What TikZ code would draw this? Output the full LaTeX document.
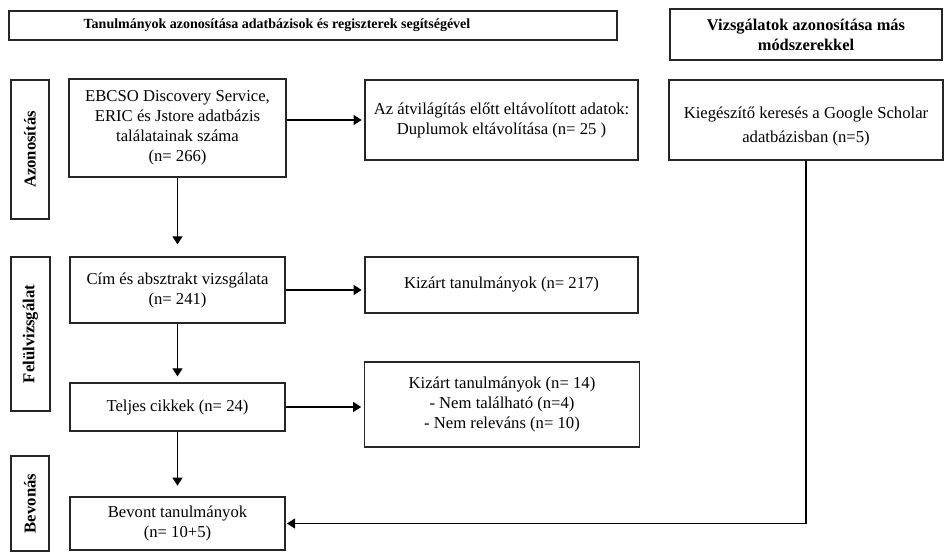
\documentclass[tikz,border=0pt]{standalone}
\usepackage{fontspec}
\setmainfont{Liberation Serif}
\usetikzlibrary{arrows.meta}
\begin{document}
\begin{tikzpicture}[x=0.75pt,y=-0.75pt,
  box/.style={draw=black!85, line width=1pt, align=center, inner sep=2pt,
    font=\fontsize{12.5}{15}\selectfont},
  hdr/.style={box, font=\bfseries\fontsize{12.3}{15}\selectfont},
  side/.style={draw=black!85, line width=1pt, rotate=90, inner sep=0pt,
    font=\bfseries\fontsize{12.5}{15}\selectfont},
  arr/.style={line width=0.9pt, -{Triangle[length=6pt,width=7.5pt]}}]
\useasboundingbox (0,0) rectangle (946,552);
% headers
\node[hdr, font=\bfseries\fontsize{10.5}{13}\selectfont, minimum width=456pt, minimum height=21.75pt] (h1) at (313,25.5)
  {Tanulmányok azonosítása adatbázisok és regiszterek segítségével\hspace*{54pt}};
\node[hdr, minimum width=204pt, minimum height=38.25pt] (h2) at (806,34.5)
  {Vizsgálatok azonosítása más\\módszerekkel};
% side labels
\node[side, minimum width=104.25pt, minimum height=28.5pt] (s1) at (30,149.5) {Azonosítás};
\node[side, minimum width=115.5pt, minimum height=29.25pt] (s2) at (30.5,334) {Felülvizsgálat};
\node[side, minimum width=71.25pt, minimum height=28.5pt] (s3) at (30,503.5) {Bevonás};
% left column
\node[box, minimum width=162.75pt, minimum height=73.5pt] (ebcso) at (177.5,128)
  {EBCSO Discovery Service,\\ERIC és Jstore adatbázis\\találatainak száma\\(n= 266)};
\node[box, minimum width=161.25pt, minimum height=49.5pt] (cim) at (177.5,290)
  {Cím és absztrakt vizsgálata\\(n= 241)};
\node[box, minimum width=161.25pt, minimum height=36pt] (teljes) at (177.5,407)
  {Teljes cikkek (n= 24)};
\node[box, minimum width=161.25pt, minimum height=39.75pt] (bevont) at (177.5,523.5)
  {Bevont tanulmányok\\(n= 10+5)};
% middle column
\node[box, minimum width=204.75pt, minimum height=60pt] (atv) at (501.5,120)
  {Az átvilágítás előtt eltávolított adatok:\\Duplumok eltávolítása (n= 25 )};
\node[box, minimum width=204.75pt, minimum height=42pt] (kiz1) at (501.5,285)
  {Kizárt tanulmányok (n= 217)};
\node[box, minimum width=206.25pt, minimum height=63.75pt] (kiz2) at (502,404.5)
  {Kizárt tanulmányok (n= 14)\\- Nem található (n=4)\\- Nem releváns (n= 10)};
% right column
\node[box, minimum width=205.5pt, minimum height=60pt, font=\fontsize{12.5}{18}\selectfont] (google) at (806,120)
  {\rule{0pt}{19pt}Kiegészítő keresés a Google Scholar\\adatbázisban (n=5)};
% connectors
\draw[arr, shorten >=2pt] (ebcso.east |- atv.west) -- (atv.west);
\draw[arr, shorten >=2pt] (cim.east) -- (cim.east -| kiz1.west);
\draw[arr, shorten >=2pt] (teljes.east) -- (teljes.east -| kiz2.west);
\draw[arr, shorten >=9pt] (ebcso.south) -- (cim.north);
\draw[arr, shorten >=4.5pt] (cim.south) -- (teljes.north);
\draw[arr, shorten >=8pt] (teljes.south) -- (bevont.north);
\draw[arr, shorten >=1pt] (google.south) |- (bevont.east);
\end{tikzpicture}
\end{document}
